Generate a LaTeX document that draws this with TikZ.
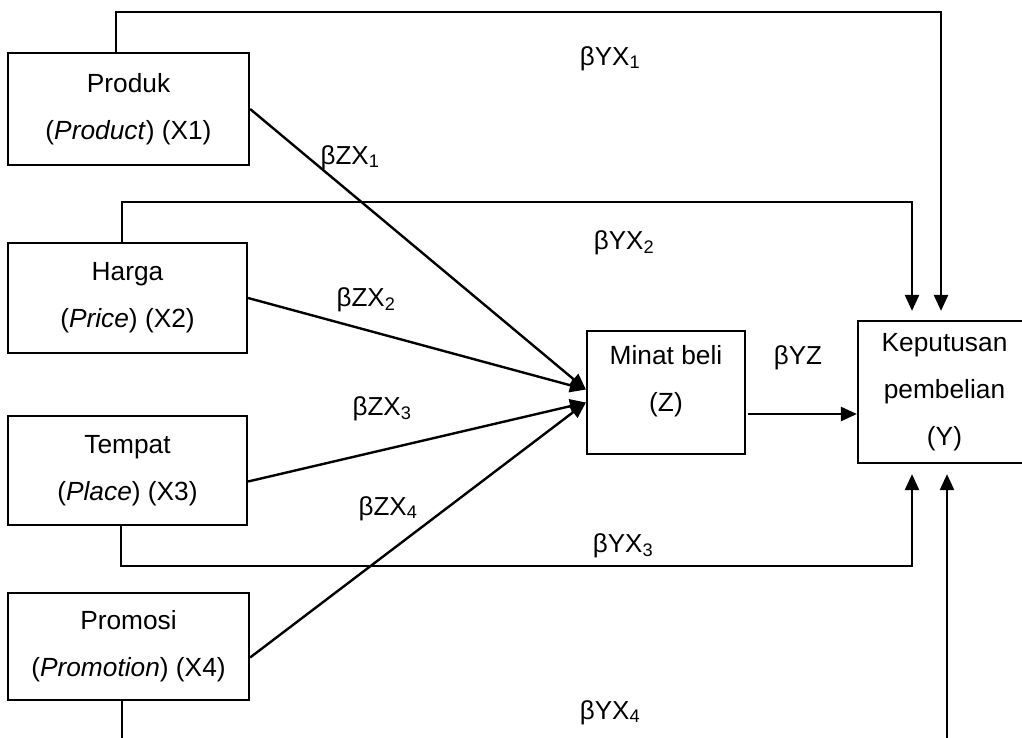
\documentclass[tikz,border=0pt]{standalone}
\usepackage{fontspec}
\setmainfont{Liberation Sans}
\usetikzlibrary{arrows.meta,calc}
\begin{document}
\begin{tikzpicture}[x=1pt,y=-1pt,
  box/.style={draw,line width=2.2pt,inner sep=0pt,align=center,font=\fontsize{26.3}{47}\selectfont},
  txt/.style={inner sep=0pt,align=center,font=\fontsize{26.3}{47}\selectfont},
  lbl/.style={inner sep=0pt,anchor=base,font=\fontsize{26}{30}\selectfont},
  ln/.style={line width=2.4pt},
  arr/.style={line width=2.4pt,-{Triangle[length=16pt,width=14pt]}}]
\useasboundingbox (0,0) rectangle (1022,737);
\clip (0,0) rectangle (1022,737);
% boxes
\node[box,minimum width=241,minimum height=112] (X1) at (128.5,109) {Produk\\(\textit{Product}) (X1)};
\node[box,minimum width=239,minimum height=110] (X2) at (127.5,298) {Harga\\(\textit{Price}) (X2)};
\node[box,minimum width=239,minimum height=109] (X3) at (127.5,470.5) {Tempat\\(\textit{Place}) (X3)};
\node[box,minimum width=241,minimum height=107] (X4) at (128.5,646.5) {Promosi\\(\textit{Promotion}) (X4)};
\node[box,minimum width=158,minimum height=123] (Z) at (666,392.5) {};
\node[txt] (Zt) at (666,381) {Minat beli\\(Z)};
\node[box,minimum width=173,minimum height=142] (Y) at (944.5,392) {Keputusan\\pembelian\\(Y)};
% paths to Z
\draw[arr] (X1.east) -- ($(Z.west)+(0,-3)$);
\draw[arr] (X2.east) -- ($(Z.west)+(0,-3)$);
\draw[arr] ($(X3.east)+(0,11)$) -- ($(Z.west)+(0,10)$);
\draw[arr] ($(X4.east)+(0,11)$) -- ($(Z.west)+(0,10)$);
% Z to Y
\coordinate (zo) at ($(Z.east)+(2,21.5)$);
\draw[arr] (zo) -- (zo -| Y.west);
% direct paths to Y
\coordinate (c1) at (941,12);
\draw[arr,shorten >=9pt] ([xshift=-12.5pt]X1.north) |- (c1) -- (c1 |- Y.north);
\coordinate (c2) at (912,202);
\draw[arr,shorten >=9pt] ([xshift=-5.5pt]X2.north) |- (c2) -- (c2 |- Y.north);
\coordinate (c3) at (912,566);
\draw[arr,shorten >=10pt] ([xshift=-6.5pt]X3.south) |- (c3) -- (c3 |- Y.south);
\coordinate (b4) at (122,742);
\draw[ln] (X4.south -| b4) -- (b4);
\coordinate (b5) at (947,742);
\draw[arr,shorten >=10pt] (b5) -- (b5 |- Y.south);
% labels
\node[lbl] (lYX1) at (610,65) {βYX\textsubscript{1}};
\node[lbl] (lZX1) at (350,164) {βZX\textsubscript{1}};
\node[lbl] (lYX2) at (624,249) {βYX\textsubscript{2}};
\node[lbl] (lZX2) at (366,306) {βZX\textsubscript{2}};
\node[lbl] (lZX3) at (382,415) {βZX\textsubscript{3}};
\node[lbl] (lZX4) at (388,515) {βZX\textsubscript{4}};
\node[lbl] (lYX3) at (623,552) {βYX\textsubscript{3}};
\node[lbl] (lYX4) at (610,719) {βYX\textsubscript{4}};
\node[lbl] (lYZ) at (798,364) {βYZ};
\end{tikzpicture}
\end{document}
